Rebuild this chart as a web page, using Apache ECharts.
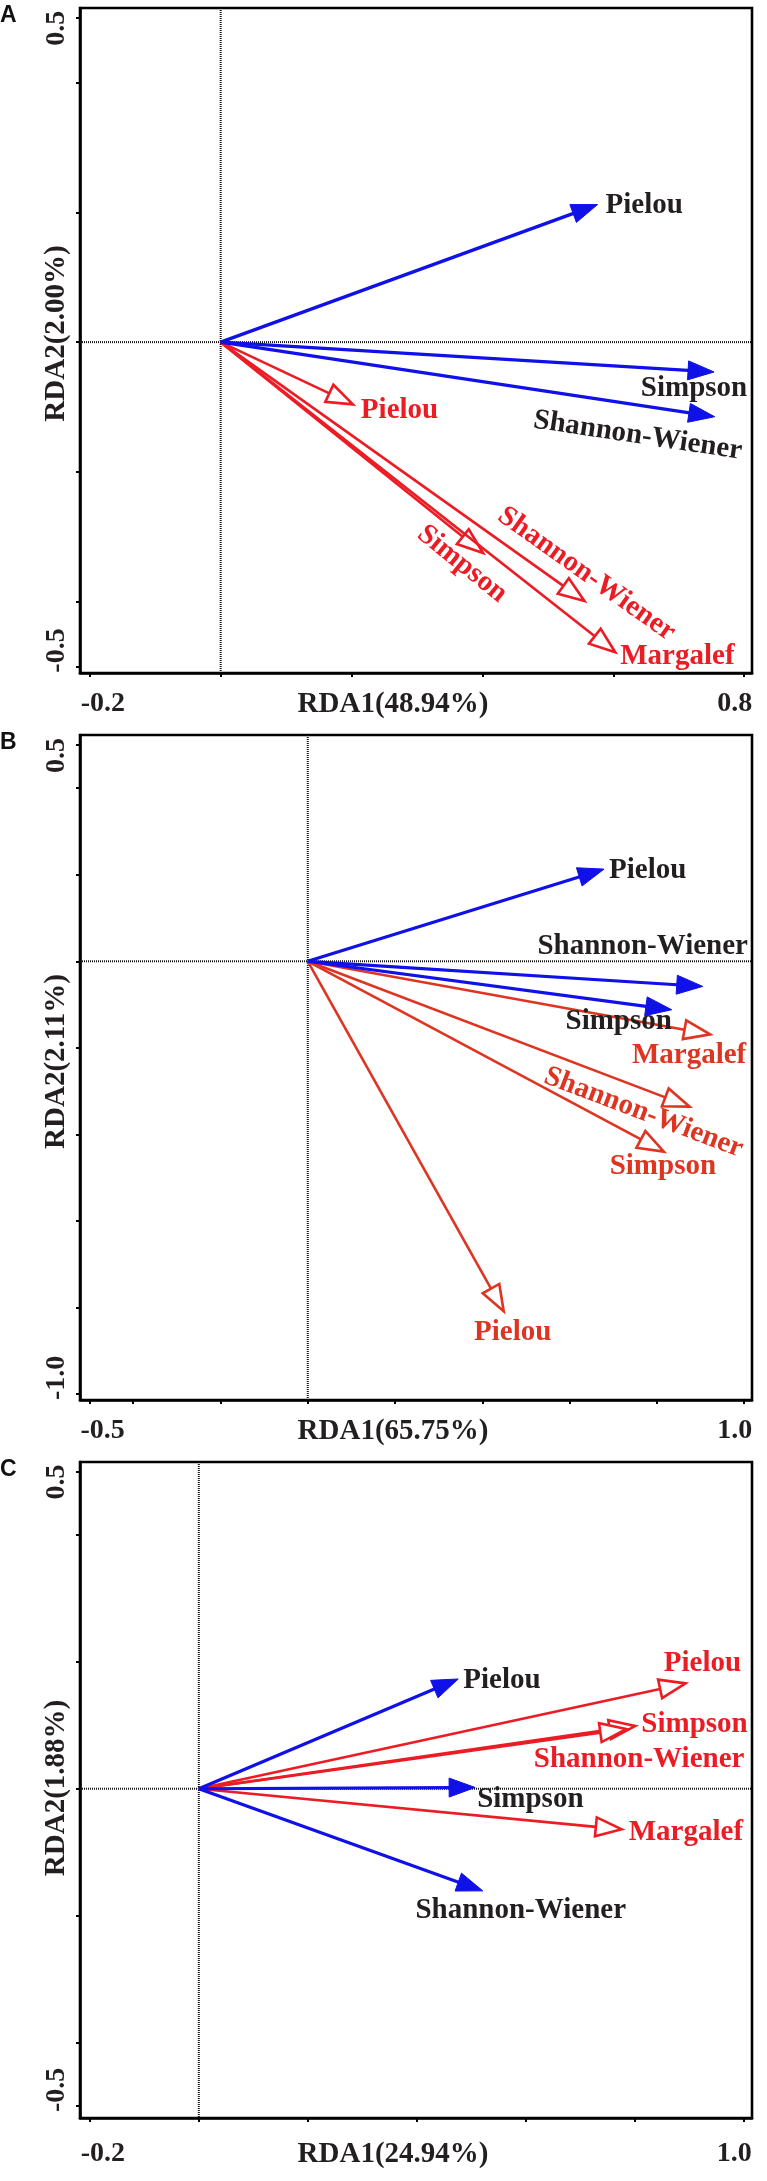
<!DOCTYPE html>
<html>
<head>
<meta charset="utf-8">
<script src="https://cdn.jsdelivr.net/npm/echarts@6/dist/echarts.min.js"></script>
<style>
html,body{margin:0;padding:0;background:#ffffff;}
#chart{width:767px;height:2181px;}
</style>
</head>
<body>
<div id="chart"></div>
<script>
// ================= DATA =================
const panelLetters = ['A', 'B', 'C'];
const xAxisNames = ['RDA1(48.94%)', 'RDA1(65.75%)', 'RDA1(24.94%)'];
const yAxisNames = ['RDA2(2.00%)', 'RDA2(2.11%)', 'RDA2(1.88%)'];

// Panel A
const blueNamesA = ['Pielou', 'Simpson', 'Shannon-Wiener'];
const blueXA = [0.576, 0.754, 0.755];
const blueYA = [0.212, -0.046, -0.115];
const redNamesA = ['Pielou', 'Simpson', 'Shannon-Wiener', 'Margalef'];
const redXA = [0.202, 0.401, 0.556, 0.603];
const redYA = [-0.096, -0.325, -0.399, -0.478];

// Panel B
const blueNamesB = ['Pielou', 'Shannon-Wiener', 'Simpson'];
const blueXB = [0.679, 0.905, 0.834];
const blueYB = [0.213, -0.058, -0.112];
const redNamesB = ['Margalef', 'Shannon-Wiener', 'Simpson', 'Pielou'];
const redXB = [0.922, 0.875, 0.816, 0.449];
const redYB = [-0.169, -0.336, -0.440, -0.809];

// Panel C
const blueNamesC = ['Pielou', 'Simpson', 'Shannon-Wiener'];
const blueXC = [0.476, 0.507, 0.521];
const blueYC = [0.173, 0.002, -0.161];
const redNamesC = ['Pielou', 'Simpson', 'Shannon-Wiener', 'Margalef'];
const redXC = [0.893, 0.801, 0.784, 0.776];
const redYC = [0.166, 0.099, 0.094, -0.064];

// Axis ranges, ticks and tick labels
const xRangeA = [-0.215, 0.812];
const yRangeA = [-0.510, 0.515];
const xTicksA = [-0.2, 0, 0.2, 0.4, 0.6, 0.8];
const yTicksA = [-0.5, -0.4, -0.2, 0, 0.2, 0.4, 0.5];
const xLabelsA = [-0.2, 0.8];
const yLabelsA = [-0.5, 0.5];

const xRangeB = [-0.522, 1.018];
const yRangeB = [-1.014, 0.523];
const xTicksB = [-0.5, -0.4, -0.2, 0, 0.2, 0.4, 0.6, 0.8, 1.0];
const yTicksB = [-1.0, -0.8, -0.6, -0.4, -0.2, 0, 0.2, 0.4, 0.5];
const xLabelsB = [-0.5, 1.0];
const yLabelsB = [-1.0, 0.5];

const xRangeC = [-0.218, 1.015];
const yRangeC = [-0.519, 0.515];
const xTicksC = [-0.2, 0, 0.2, 0.4, 0.6, 0.8, 1.0];
const yTicksC = [-0.5, -0.4, -0.2, 0, 0.2, 0.4, 0.5];
const xLabelsC = [-0.2, 1.0];
const yLabelsC = [-0.5, 0.5];

// ================= LAYOUT / STYLE =================
const SERIF = 'Liberation Serif, Times New Roman, serif';
const TXT = '#231f20';
const BLUE = '#1010e8';
const REDS = ['#ec1c24', '#de3522', '#ec1c24'];

const grids = [
  { left: 80, top: 8, width: 672, height: 665 },
  { left: 80, top: 735, width: 672, height: 665 },
  { left: 80, top: 1462, width: 672, height: 656 }
];
const letterTops = [4, 731, 1458];
const xLabelMargins = [17, 17, 22];
const yNamePadding = [[0, 0, 0, 14], [0, 0, 0, 12], [0, 0, 0, 4]];

// label placement relative to arrow tip (px)
const layoutBlue = [
  [{ a: 'left', dx: 8, dy: 1 }, { a: 'center', dx: -20, dy: 17 }, { a: 'center', dx: -77, dy: 19, along: true }],
  [{ a: 'left', dx: 5, dy: 1 }, { a: 'center', dx: -60, dy: -40 }, { a: 'center', dx: -53, dy: 12 }],
  [{ a: 'left', dx: 5, dy: 2 }, { a: 'left', dx: 2, dy: 12 }, { a: 'center', dx: 38, dy: 20 }]
];
const layoutRed = [
  [{ a: 'left', dx: 8, dy: 6 }, { a: 'center', dx: -21, dy: 11, along: true }, { a: 'center', dx: 2, dy: -27, along: true }, { a: 'left', dx: 5, dy: 4 }],
  [{ a: 'center', dx: -21, dy: 21 }, { a: 'center', dx: -46, dy: 6, along: true }, { a: 'center', dx: -1, dy: 15 }, { a: 'center', dx: 9, dy: 21 }],
  [{ a: 'center', dx: 17, dy: -20 }, { a: 'left', dx: 6, dy: -1 }, { a: 'center', dx: 13, dy: 30 }, { a: 'left', dx: 7, dy: 3 }]
];

const panels = [
  { bn: blueNamesA, bx: blueXA, by: blueYA, rn: redNamesA, rx: redXA, ry: redYA,
    xr: xRangeA, yr: yRangeA, xt: xTicksA, yt: yTicksA, xl: xLabelsA, yl: yLabelsA },
  { bn: blueNamesB, bx: blueXB, by: blueYB, rn: redNamesB, rx: redXB, ry: redYB,
    xr: xRangeB, yr: yRangeB, xt: xTicksB, yt: yTicksB, xl: xLabelsB, yl: yLabelsB },
  { bn: blueNamesC, bx: blueXC, by: blueYC, rn: redNamesC, rx: redXC, ry: redYC,
    xr: xRangeC, yr: yRangeC, xt: xTicksC, yt: yTicksC, xl: xLabelsC, yl: yLabelsC }
];

function tokenStyle(padding) {
  return { fontFamily: SERIF, fontWeight: 'bold', fontSize: 28, color: TXT, padding: padding };
}

function arrowSeries(gi, names, xs, ys, color, textColor, hollow, layout) {
  return {
    type: 'custom',
    xAxisIndex: gi,
    yAxisIndex: gi,
    z: 3,
    silent: true,
    clip: false,
    data: xs.map(function (x, i) { return [x, ys[i], i]; }),
    renderItem: function (params, api) {
      const i = api.value(2);
      const o = api.coord([0, 0]);
      const t = api.coord([api.value(0), api.value(1)]);
      const dx = t[0] - o[0], dy = t[1] - o[1];
      const len = Math.sqrt(dx * dx + dy * dy);
      const ux = dx / len, uy = dy / len;
      const L = 26, W = 9.5;
      const bx = t[0] - ux * L, by = t[1] - uy * L;
      const px = -uy, py = ux;
      const lay = layout[i];
      const ang = Math.atan2(dy, dx);
      const shaftEnd = hollow ? [bx, by] : [bx + ux * 4, by + uy * 4];
      return {
        type: 'group',
        children: [
          {
            type: 'line',
            shape: { x1: o[0], y1: o[1], x2: shaftEnd[0], y2: shaftEnd[1] },
            style: { stroke: color, lineWidth: hollow ? 2.6 : 3.2 }
          },
          {
            type: 'polygon',
            shape: { points: [[t[0], t[1]], [bx + px * W, by + py * W], [bx - px * W, by - py * W]] },
            style: hollow
              ? { fill: '#ffffff', stroke: color, lineWidth: 2.6, lineJoin: 'miter' }
              : { fill: color, stroke: color, lineWidth: 1, lineJoin: 'miter' }
          },
          {
            type: 'text',
            x: t[0] + lay.dx,
            y: t[1] + lay.dy,
            rotation: lay.along ? -ang : 0,
            style: {
              text: names[i],
              fill: textColor,
              fontFamily: SERIF,
              fontWeight: 'bold',
              fontSize: 29,
              align: lay.a,
              verticalAlign: 'middle'
            }
          }
        ]
      };
    }
  };
}

function crossSeries(gi) {
  return {
    type: 'custom',
    xAxisIndex: gi,
    yAxisIndex: gi,
    z: 1,
    silent: true,
    data: [[0, 0]],
    renderItem: function (params, api) {
      const o = api.coord([api.value(0), api.value(1)]);
      const cs = params.coordSys;
      const st = { stroke: '#111111', lineWidth: 2, lineDash: [1, 1] };
      return {
        type: 'group',
        children: [
          { type: 'line', shape: { x1: o[0], y1: cs.y, x2: o[0], y2: cs.y + cs.height }, style: st },
          { type: 'line', shape: { x1: cs.x, y1: o[1], x2: cs.x + cs.width, y2: o[1] }, style: st }
        ]
      };
    }
  };
}

const option = {
  animation: false,
  backgroundColor: '#ffffff',
  title: panelLetters.map(function (l, i) {
    return {
      text: l, left: 0, top: letterTops[i], padding: 0,
      textStyle: { fontFamily: 'Liberation Sans, Arial, sans-serif', fontWeight: 'bold', fontSize: 23, color: '#111111' }
    };
  }),
  grid: grids.map(function (g) {
    return Object.assign({ show: true, borderColor: '#000000', borderWidth: 2.6, backgroundColor: 'transparent' }, g);
  }),
  xAxis: panels.map(function (p, i) {
    return {
      type: 'value', gridIndex: i, min: p.xr[0], max: p.xr[1],
      name: xAxisNames[i], nameLocation: 'middle', nameGap: xLabelMargins[i], nameMoveOverlap: false,
      nameTextStyle: { fontFamily: SERIF, fontWeight: 'bold', fontSize: 29, color: TXT, padding: [0, 46, 0, 0] },
      axisLine: { show: true, onZero: false, lineStyle: { color: '#000000', width: 2.6 } },
      axisTick: { show: true, customValues: p.xt, length: 4, lineStyle: { color: '#000000', width: 2 } },
      splitLine: { show: false },
      axisLabel: {
        show: true, customValues: p.xl, margin: xLabelMargins[i],
        formatter: function (v) { return (v === p.xl[0] ? '{lo|' : '{hi|') + v.toFixed(1) + '}'; },
        rich: { lo: tokenStyle([0, 0, 0, 26]), hi: tokenStyle([0, 19, 0, 0]) }
      }
    };
  }),
  yAxis: panels.map(function (p, i) {
    return {
      type: 'value', gridIndex: i, min: p.yr[0], max: p.yr[1],
      name: yAxisNames[i], nameLocation: 'middle', nameGap: 9, nameRotate: 90, nameMoveOverlap: false,
      nameTextStyle: { fontFamily: SERIF, fontWeight: 'bold', fontSize: 29, color: TXT, padding: yNamePadding[i] },
      axisLine: { show: true, onZero: false, lineStyle: { color: '#000000', width: 2.6 } },
      axisTick: { show: true, customValues: p.yt, length: 4, lineStyle: { color: '#000000', width: 2 } },
      splitLine: { show: false },
      axisLabel: {
        show: true, customValues: p.yl, margin: 9, rotate: 90,
        formatter: function (v) { return (v === p.yl[0] ? '{lo|' : '{hi|') + v.toFixed(1) + '}'; },
        rich: { lo: tokenStyle([0, 0, 0, 32]), hi: tokenStyle([0, 21, 0, 0]) }
      }
    };
  }),
  series: []
};

panels.forEach(function (p, i) {
  option.series.push(crossSeries(i));
  option.series.push(arrowSeries(i, p.rn, p.rx, p.ry, REDS[i], REDS[i], true, layoutRed[i]));
  option.series.push(arrowSeries(i, p.bn, p.bx, p.by, BLUE, TXT, false, layoutBlue[i]));
});

const chart = echarts.init(document.getElementById('chart'), null, { renderer: 'canvas' });
chart.setOption(option);
</script>
</body>
</html>
